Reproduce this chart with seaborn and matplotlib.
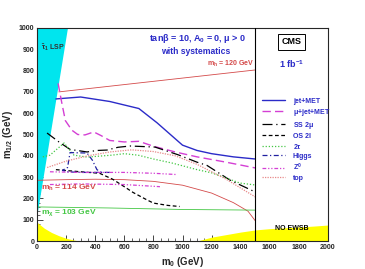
import numpy as np
import pandas as pd
import matplotlib
matplotlib.use("Agg")
import matplotlib.pyplot as plt
import seaborn as sns

# ---- data ----
jet_m0 = [130, 300, 500, 700, 825, 1000, 1100, 1200, 1350, 1500]
jet_m12 = [667, 676, 655, 622, 555, 450, 425, 410, 395, 385]

mujet_m0 = [145, 170, 195, 240, 280, 330, 390, 440, 500, 600, 700, 800, 950, 1100, 1300, 1500]
mujet_m12 = [740, 650, 565, 520, 500, 498, 512, 495, 472, 465, 468, 445, 418, 395, 370, 343]

ss_m0 = [69, 151, 227, 344, 412, 481, 557, 640, 811, 969, 1100, 1168, 1326, 1500]
ss_m12 = [507, 465, 430, 418, 425, 427, 440, 446, 441, 405, 370, 355, 286, 230]

os_m0 = [130, 300, 430, 520, 600, 660, 750, 800, 900, 980]
os_m12 = [335, 325, 318, 290, 255, 228, 195, 178, 167, 162]

tau_m0 = [40, 89, 186, 254, 344, 515, 600, 694, 800, 928, 990, 1100, 1200, 1395, 1500]
tau_m12 = [395, 403, 460, 403, 394, 403, 410, 403, 385, 366, 355, 335, 320, 272, 263]

higgs_m0 = [500, 300, 206, 175, 210, 227, 344, 380, 412, 450]
higgs_m12 = [322, 322, 325, 332, 345, 415, 413, 380, 335, 318]

z0_upper_m0 = [89, 300, 600, 800, 960]
z0_upper_m12 = [325, 322, 322, 318, 312]
z0_lower_m0 = [89, 300, 600, 845]
z0_lower_m12 = [265, 268, 265, 255]

top_m0 = [70, 200, 350, 500, 650, 800, 950, 1100, 1300, 1500]
top_m12 = [345, 375, 400, 418, 428, 420, 400, 360, 290, 207]

mh114_m0 = [0, 200, 400, 600, 800, 1000, 1200, 1350, 1450, 1500]
mh114_m12 = [285, 288, 290, 288, 280, 262, 225, 180, 140, 95]

mh120_m0 = [150, 1500]
mh120_m12 = [700, 803]

mchi_m0 = [0, 500, 1000, 1500]
mchi_m12 = [160, 155, 148, 145]

lsp_m0 = [0, 0, 210]
lsp_m12 = [110, 1000, 1000]

ewsb_left_m0 = [0, 50, 100, 150, 200, 250, 290]
ewsb_left_m12 = [88, 60, 40, 25, 13, 5, 0]
ewsb_right_m0 = [1100, 1200, 1300, 1400, 1500, 1600, 1700, 1800, 1900, 2000]
ewsb_right_m12 = [0, 18, 30, 42, 52, 58, 62, 66, 70, 75]

x_ticks = list(range(0, 2001, 200))
y_ticks = list(range(0, 1001, 100))

# ---- style ----
sns.set_style("ticks")
plt.rcParams['font.family'] = ['Liberation Sans', 'DejaVu Sans']
plt.rcParams['font.weight'] = 'bold'
plt.rcParams['mathtext.fontset'] = 'custom'
plt.rcParams['mathtext.rm'] = 'Liberation Sans:bold'
plt.rcParams['mathtext.it'] = 'Liberation Sans:bold'
plt.rcParams['mathtext.bf'] = 'Liberation Sans:bold'

fig = plt.figure(figsize=(3.65, 2.69), dpi=100)
ax = fig.add_axes([37/365, 28/269, 291/365, 213/269])

ax.fill(lsp_m0, lsp_m12, color='#00e5ee', lw=0, zorder=1)
ax.fill_between(ewsb_left_m0, 0, ewsb_left_m12, color='#ffff00', lw=0, zorder=1)
ax.fill_between(ewsb_right_m0, 0, ewsb_right_m12, color='#ffff00', lw=0, zorder=1)

blue = '#2b2bc8'
mag = '#d43fd4'
grn = '#44c744'
red = '#d44a4a'
pink = '#e88a8a'


def draw(x, y, color, lw, dashes=None, label=None):
    kw = dict(ax=ax, color=color, lw=lw, sort=False, estimator=None, legend=False)
    sns.lineplot(x=x, y=y, **kw)
    line = ax.lines[-1]
    if dashes:
        line.set_dashes(dashes)
    if label:
        line.set_label(label)
    else:
        line.set_label('_nolegend_')
    return line


lw = 0.9
draw(mh120_m0, mh120_m12, red, 0.6)
draw(mh114_m0, mh114_m12, red, 0.6)
draw(mchi_m0, mchi_m12, grn, 0.6)

handles = []
handles.append(draw(jet_m0, jet_m12, blue, 1.0, None, 'jet+MET'))
handles.append(draw(mujet_m0, mujet_m12, mag, 1.0, [6, 3], r'$\mu$+jet+MET'))
handles.append(draw(ss_m0, ss_m12, 'black', lw, [8, 3, 1, 3], r'SS 2$\mu$'))
handles.append(draw(os_m0, os_m12, 'black', lw, [3, 2], 'OS 2l'))
handles.append(draw(tau_m0, tau_m12, grn, lw, [1, 1.5], r'2$\tau$'))
handles.append(draw(higgs_m0, higgs_m12, '#2020a0', lw, [4, 2, 1, 2], 'Higgs'))
handles.append(draw(z0_upper_m0, z0_upper_m12, mag, lw, [3, 1.5, 1, 1.5, 1, 1.5], r'Z$^0$'))
draw(z0_lower_m0, z0_lower_m12, mag, lw, [3, 1.5, 1, 1.5, 1, 1.5])
handles.append(draw(top_m0, top_m12, pink, lw, [1, 1], 'top'))

ax.axvline(1500, color='black', lw=0.8, zorder=3)

ax.set_xlim(0, 2000)
ax.set_ylim(0, 1000)
ax.set_xticks(x_ticks)
ax.set_yticks(y_ticks)
ax.set_xticks(range(0, 2001, 50), minor=True)
ax.set_yticks(range(0, 1001, 20), minor=True)
ax.tick_params(axis='both', which='both', direction='in', labelsize=5, pad=2)
ax.tick_params(which='major', length=4, width=0.6)
ax.tick_params(which='minor', length=2, width=0.5)
for s in ax.spines.values():
    s.set_linewidth(0.8)
for lab in ax.get_xticklabels() + ax.get_yticklabels():
    lab.set_fontweight('bold')

ax.set_xlabel(r'm$_0$ (GeV)', fontsize=7, fontweight='bold', labelpad=3)
ax.set_ylabel(r'm$_{1/2}$ (GeV)', fontsize=7, fontweight='bold', labelpad=3)

ax.text(0.553, 0.953, r'tan$\beta$ = 10, A$_0$ = 0, $\mu$ > 0', transform=ax.transAxes,
        ha='center', va='center', fontsize=6.5, color=blue, fontweight='bold')
ax.text(0.545, 0.89, 'with systematics', transform=ax.transAxes,
        ha='center', va='center', fontsize=6.2, color=blue, fontweight='bold')
ax.text(1495, 830, r'm$_h$ = 120 GeV', ha='right', va='center', fontsize=5, color=red, fontweight='bold')
ax.text(30, 250, r'm$_h$ = 114 GeV', ha='left', va='center', fontsize=6, color=red, fontweight='bold')
ax.text(30, 135, r'm$_\chi$ = 103 GeV', ha='left', va='center', fontsize=6, color=grn, fontweight='bold')
ax.text(30, 910, r'$\tilde{\tau}_1$ LSP', ha='left', va='center', fontsize=5, color='#333333', fontweight='bold')
ax.text(1750, 60, 'NO EWSB', ha='center', va='center', fontsize=5, color='black', fontweight='bold')
ax.text(1750, 935, 'CMS', ha='center', va='center', fontsize=6.5, color='black', fontweight='bold',
        bbox=dict(boxstyle='square,pad=0.35', fc='white', ec='black', lw=0.7))
ax.text(1750, 830, r'1 fb$^{-1}$', ha='center', va='center', fontsize=6.5, color=blue, fontweight='bold')

leg = ax.legend(handles=handles, loc='upper left', bbox_to_anchor=(0.765, 0.685), frameon=False,
                fontsize=5, handlelength=3.2, handletextpad=1.2, labelspacing=0.28,
                handleheight=0.7, borderaxespad=0)
for t in leg.get_texts():
    t.set_color(blue)
    t.set_fontweight('bold')

fig.savefig('out.png', dpi=100)
